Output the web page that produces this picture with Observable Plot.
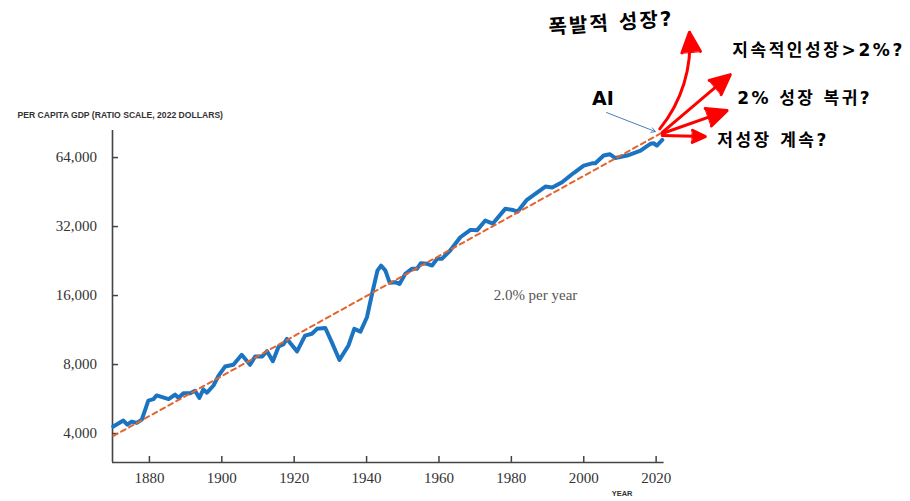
<!DOCTYPE html>
<html><head><meta charset="utf-8">
<script src="https://cdn.jsdelivr.net/npm/d3@7"></script>
<script src="https://cdn.jsdelivr.net/npm/@observablehq/plot@0.6"></script>
<style>html,body{margin:0;padding:0;background:#fff}#chart svg{display:block}</style>
</head><body><div id="chart"></div>
<script>
// Per capita GDP (2022 dollars)
const years = [1870, 1872.8, 1873.9, 1875.1, 1876.5, 1877.9, 1879.7, 1881.1, 1882.0, 1885.3, 1887.1, 1888.0, 1889.4, 1891.3, 1892.6, 1893.8, 1894.9, 1895.9, 1897.7, 1899.1, 1900.9, 1903.2, 1905.5, 1907.8, 1909.2, 1911.1, 1912.5, 1914.1, 1915.7, 1917.0, 1918.0, 1919.4, 1920.8, 1923.0, 1924.9, 1926.3, 1928.6, 1930.4, 1932.5, 1935.0, 1936.6, 1938.3, 1940.1, 1941.5, 1943.0, 1944.0, 1945.2, 1946.4, 1947.9, 1949.1, 1950.7, 1952.5, 1953.9, 1955.0, 1956.7, 1958.1, 1959.5, 1960.8, 1963.1, 1965.9, 1968.7, 1970.5, 1972.8, 1974.9, 1978.3, 1980.5, 1981.7, 1984.3, 1989.4, 1991.3, 1994.0, 1997.2, 2000.0, 2002.3, 2003.2, 2005.5, 2007.2, 2008.7, 2012.0, 2015.7, 2018.4, 2019.3, 2020.2, 2021.7];
const gdp = [4290, 4556, 4370, 4510, 4450, 4600, 5570, 5650, 5865, 5650, 5920, 5720, 5990, 5990, 6150, 5720, 6230, 6030, 6480, 7160, 7840, 7980, 8820, 7980, 8670, 8670, 9150, 8270, 9590, 9790, 10350, 9710, 9130, 10700, 10900, 11450, 11550, 10000, 8380, 9690, 11450, 11140, 12870, 16250, 20560, 21630, 20560, 18180, 18300, 17980, 19900, 20930, 20930, 22140, 22000, 21630, 23140, 23140, 25150, 28740, 30950, 30800, 33990, 32990, 38230, 37800, 37100, 41850, 47830, 47400, 49940, 54800, 59050, 60400, 60400, 65300, 66200, 63700, 65300, 68650, 73500, 73900, 72200, 76400];

// 2% per year trend line
const trendYears = [1870, 2021.5];
const trendValues = [3900, 82000];

// ticks
const xTicks = [1880, 1900, 1920, 1940, 1960, 1980, 2000, 2020];
const yTicks = [4000, 8000, 16000, 32000, 64000];
const xDomain = [1869.8, 2022.2];
const yDomain = [2990, 84000];

// texts
const yTitle = "PER CAPITA GDP (RATIO SCALE, 2022 DOLLARS)";
const xTitle = "YEAR";
const trendLabel = "2.0% per year";
const trendLabelAt = [1975.1, 16000];

// future scenarios (arrows from today)
const scenarioLabels = ["지속적인성장>2%?", "2% 성장 복귀?", "저성장 계속?"];
const scenarioSpacing = [2.6, 2.4, 2.5];
const scenarioStartYear = [2021.7, 2021.7, 2021.7];
const scenarioStartValue = [82500, 81500, 79800];
const scenarioEndYear = [2040.5, 2039.6, 2033.6];
const scenarioEndValue = [147300, 102600, 79000];
const scenarioLabelYear = [2041.0, 2042.4, 2036.9];
const scenarioLabelValue = [187500, 115800, 75900];

const boomLabel = "폭발적 성장?";
const boomStart = [2021.0, 85400];
const boomEnd = [2029.2, 225300];
const boomLabelAt = [1990.3, 236000];

const aiLabel = "AI";
const aiLabelAt = [2002.3, 115800];
const aiArrowFrom = [2006.3, 100600];
const aiArrowTo = [2019.8, 83100];

const series = years.map((y, i) => ({year: y, gdp: gdp[i]}));
const trend = trendYears.map((y, i) => ({year: y, gdp: trendValues[i]}));
const scenarios = scenarioLabels.map((t, i) => ({
  label: t, x1: scenarioStartYear[i], y1: scenarioStartValue[i],
  x2: scenarioEndYear[i], y2: scenarioEndValue[i],
  lx: scenarioLabelYear[i], ly: scenarioLabelValue[i]
}));
const boom = [{x1: boomStart[0], y1: boomStart[1], x2: boomEnd[0], y2: boomEnd[1]}];

const red = "#ff0000";
const korean = "DejaVu Sans, Noto Sans CJK KR, sans-serif";

const plot = Plot.plot({
  width: 910,
  height: 501,
  marginLeft: 112,
  marginRight: 246.4,
  marginTop: 130,
  marginBottom: 39,
  style: {background: "#fff", overflow: "visible"},
  x: {domain: xDomain},
  y: {type: "log", base: 2, domain: yDomain},
  marks: [
    Plot.axisY(yTicks, {anchor: "left", tickSize: -6, tickPadding: 21.6, tickFormat: d3.format(","),
      fontFamily: "Liberation Serif", fontSize: 15, fill: "#333", stroke: "#444", strokeWidth: 1.5, label: null}),
    Plot.axisX(xTicks, {anchor: "bottom", tickSize: -6, tickPadding: 16, tickFormat: d => String(d),
      fontFamily: "Liberation Serif", fontSize: 15, fill: "#333", stroke: "#444", strokeWidth: 1.5, label: null}),
    Plot.ruleX([xDomain[0]], {stroke: "#444", strokeWidth: 1.6}),
    Plot.ruleY([yDomain[0]], {stroke: "#444", strokeWidth: 1.6}),
    Plot.text([yTitle], {frameAnchor: "top-left", dx: -95, dy: -19, textAnchor: "start",
      fontFamily: "Liberation Sans", fontWeight: "bold", fontSize: 8.6, fill: "#333"}),
    Plot.text([xTitle], {frameAnchor: "bottom-right", dx: -42, dy: 33, textAnchor: "middle",
      fontFamily: "Liberation Sans", fontWeight: "bold", fontSize: 7.5, fill: "#333"}),
    Plot.line(series, {x: "year", y: "gdp", stroke: "#1b74c2", strokeWidth: 4, strokeLinejoin: "round", strokeLinecap: "round"}),
    Plot.line(trend, {x: "year", y: "gdp", stroke: "#e3642e", strokeWidth: 2, strokeDasharray: "5,4"}),
    Plot.text([trendLabel], {x: trendLabelAt[0], y: trendLabelAt[1], textAnchor: "start",
      fontFamily: "Liberation Serif", fontSize: 15, fill: "#555"}),
    Plot.arrow(scenarios, {x1: "x1", y1: "y1", x2: "x2", y2: "y2",
      stroke: red, strokeWidth: 3, headLength: 11, headAngle: 50}),
    Plot.arrow(boom, {x1: "x1", y1: "y1", x2: "x2", y2: "y2", bend: -22,
      stroke: red, strokeWidth: 3, headLength: 11, headAngle: 50}),
    Plot.arrow([0], {x1: () => aiArrowFrom[0], y1: () => aiArrowFrom[1], x2: () => aiArrowTo[0], y2: () => aiArrowTo[1],
      stroke: "#4a7ebb", strokeWidth: 1, headLength: 7}),
    Plot.text([aiLabel], {x: aiLabelAt[0], y: aiLabelAt[1], textAnchor: "start",
      fontFamily: "DejaVu Sans", fontWeight: "bold", fontSize: 19, fill: "#000"}),
    Plot.text(scenarios, {x: "lx", y: "ly", text: "label", textAnchor: "start",
      fontFamily: korean, fontWeight: "bold", fontSize: 17, fill: "#000"}),
    Plot.text([boomLabel], {x: boomLabelAt[0], y: boomLabelAt[1], textAnchor: "start", rotate: -4,
      fontFamily: korean, fontWeight: "bold", fontSize: 20, fill: "#000"})
  ]
});
document.getElementById("chart").appendChild(plot);

// letter spacing for the Korean labels
d3.select(plot).selectAll("text").each(function() {
  const t = this.textContent;
  if (!/[\uAC00-\uD7A3]/.test(t)) return;
  const i = scenarioLabels.indexOf(t);
  this.setAttribute("letter-spacing", (i >= 0 ? scenarioSpacing[i] : 2.1) + "px");
});

// fill the red arrowheads as solid triangles
const isRed = el => {
  for (let n = el; n && n !== plot; n = n.parentNode) {
    const s = n.getAttribute && n.getAttribute("stroke");
    if (s) return s.toLowerCase() === red || s.toLowerCase() === "red";
  }
  return false;
};
d3.select(plot).selectAll("path").each(function() {
  if (!isRed(this)) return;
  const d = this.getAttribute("d") || "";
  const k = d.lastIndexOf("M");
  if (k <= 0) return;
  const nums = d.slice(k).match(/-?(\d+\.?\d*|\.\d+)(e-?\d+)?/g);
  if (!nums || nums.length < 6) return;
  const p = nums.slice(0, 6).map(Number);
  const poly = document.createElementNS("http://www.w3.org/2000/svg", "polygon");
  poly.setAttribute("points", `${p[0]},${p[1]} ${p[2]},${p[3]} ${p[4]},${p[5]}`);
  poly.setAttribute("fill", red);
  poly.setAttribute("stroke", red);
  poly.setAttribute("stroke-width", "1");
  this.parentNode.appendChild(poly);
});
</script>
</body></html>
